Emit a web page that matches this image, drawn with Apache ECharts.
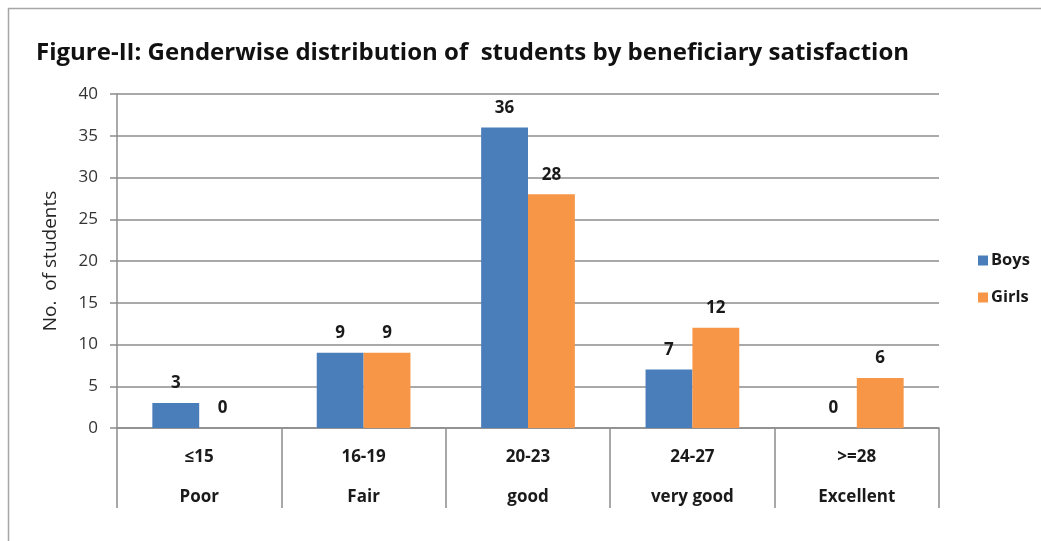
<!DOCTYPE html>
<html>
<head>
<meta charset="utf-8">
<script src="https://cdn.jsdelivr.net/npm/echarts@6/dist/echarts.min.js"></script>
<style>
html,body{margin:0;padding:0;background:#fff;}
#c{width:1041px;height:541px;}
</style>
</head>
<body>
<div id="c"></div>
<script>
const ranges = ['≤15', '16-19', '20-23', '24-27', '>=28'];
const ratings = ['Poor', 'Fair', 'good', 'very good', 'Excellent'];
const boys = [3, 9, 36, 7, 0];
const girls = [0, 9, 28, 12, 6];
const yTicks = { min: 0, max: 40, interval: 5 };
const titleText = 'Figure-II: Genderwise distribution of  students by beneficiary satisfaction';
const yName = 'No.  of students';

const chart = echarts.init(document.getElementById('c'), null, { renderer: 'canvas' });
const FONT = '"Open Sans", "Liberation Sans", sans-serif';
const labelStyle = {
  show: true, position: 'top', distance: 11,
  fontFamily: FONT, fontWeight: 'bold', fontSize: 17, color: '#1a1a1a'
};
chart.setOption({
  animation: false,
  backgroundColor: '#fff',
  title: {
    text: titleText, left: 31, top: 36,
    textStyle: { fontFamily: FONT, fontWeight: 'bold', fontSize: 24, color: '#111' }
  },
  graphic: [
    { type: 'line', shape: { x1: 8, y1: 8.5, x2: 1041, y2: 8.5 }, style: { stroke: '#a6a6a6', lineWidth: 1.5 } },
    { type: 'line', shape: { x1: 8.5, y1: 8, x2: 8.5, y2: 541 }, style: { stroke: '#a6a6a6', lineWidth: 1.5 } }
  ],
  legend: {
    orient: 'vertical', left: 973, top: 247, itemGap: 20,
    itemWidth: 10, itemHeight: 10, icon: 'rect',
    textStyle: { fontFamily: FONT, fontWeight: 'bold', fontSize: 16.5, color: '#1a1a1a', padding: [0, 0, 0, -2] },
    data: ['Boys', 'Girls']
  },
  grid: { left: 117, top: 94, width: 822, height: 334, containLabel: false },
  xAxis: {
    type: 'category',
    data: ranges.map((r, i) => r + '\n' + ratings[i]),
    axisLine: { lineStyle: { color: '#8c8c8c', width: 1.5 } },
    axisTick: { show: true, length: 80, interval: 0, lineStyle: { color: '#8c8c8c', width: 1.5 } },
    axisLabel: {
      interval: 0, margin: 9, lineHeight: 40,
      fontFamily: FONT, fontWeight: 'bold', fontSize: 17, color: '#1a1a1a'
    }
  },
  yAxis: {
    type: 'value', min: yTicks.min, max: yTicks.max, interval: yTicks.interval,
    name: yName, nameLocation: 'middle', nameGap: 57,
    nameTextStyle: { fontFamily: FONT, fontSize: 19, color: '#262626', padding: [0, 0, 0, 0] },
    axisLine: { show: true, lineStyle: { color: '#8c8c8c', width: 1.5 } },
    axisTick: { show: true, length: 7, lineStyle: { color: '#8c8c8c', width: 1.5 } },
    axisLabel: { margin: 19, fontFamily: FONT, fontSize: 17, color: '#333' },
    splitLine: { lineStyle: { color: '#8c8c8c', width: 1.5 } }
  },
  series: [
    { name: 'Boys', type: 'bar', data: boys, barGap: '0%', barCategoryGap: '43%',
      itemStyle: { color: '#4a7ebb' }, label: labelStyle },
    { name: 'Girls', type: 'bar', data: girls, barGap: '0%', barCategoryGap: '43%',
      itemStyle: { color: '#f79646' }, label: labelStyle }
  ]
});
</script>
</body>
</html>
